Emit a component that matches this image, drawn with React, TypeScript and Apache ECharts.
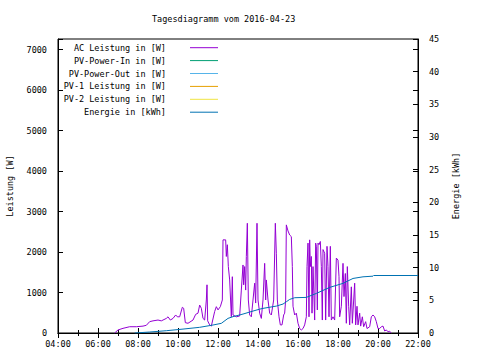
import React, { useEffect, useRef } from "react";
import * as echarts from "echarts";

const acTimes = [
  "06:50","07:00","07:15","07:35","07:55","08:15","08:25","08:35","08:45","09:00",
  "09:10","09:25","09:30","09:37","09:45","09:53","09:58","10:05","10:13","10:17",
  "10:22","10:30","10:45","10:53","11:00","11:05","11:10","11:15","11:20","11:25",
  "11:27","11:29","11:35","11:40","11:50","11:55","12:00","12:07","12:13","12:15",
  "12:23","12:25","12:28","12:31","12:35","12:40","12:43","12:45","12:55","13:05",
  "13:10","13:15","13:17","13:20","13:23","13:25","13:28","13:31","13:35","13:40",
  "13:45","13:50","13:53","13:57","14:00","14:05","14:10","14:15","14:20","14:23",
  "14:25","14:30","14:35","14:40","14:47","14:52","14:55","14:58","15:03","15:07",
  "15:12","15:17","15:20","15:23","15:25","15:30","15:35","15:40","15:43","15:45",
  "15:50","15:55","16:00","16:05","16:10","16:15","16:20","16:25","16:27","16:30",
  "16:33","16:35","16:37","16:40","16:42","16:45","16:50","16:53","16:55","16:58",
  "17:00","17:03","17:07","17:10","17:13","17:15","17:20","17:23","17:27","17:30",
  "17:33","17:37","17:40","17:45","17:50","17:55","18:00","18:03","18:05","18:10",
  "18:15","18:18","18:22","18:25","18:28","18:32","18:35","18:40","18:43","18:50",
  "18:53","18:57","19:00","19:05","19:08","19:13","19:17","19:23","19:27","19:35",
  "19:40","19:45","19:50","19:55","20:00","20:05","20:10","20:15","20:20","20:25",
  "20:30","20:35","20:40"
];
const acValues = [
  0,75,115,155,155,170,190,280,300,320,
  300,360,400,320,360,445,400,400,635,610,
  255,240,320,460,490,690,610,360,320,815,
  1190,300,200,170,530,650,570,650,815,2300,
  2300,1890,2180,1640,1310,400,1390,445,400,420,
  1060,1680,1190,1640,1060,1890,2710,815,445,400,
  815,1230,740,2710,815,490,360,815,1720,815,
  1310,815,490,445,815,2710,1970,815,400,200,
  200,445,490,815,2670,2520,2420,2380,1640,660,
  445,490,240,110,75,110,200,400,1640,2220,
  400,2300,1640,1890,490,1640,320,2220,2140,570,
  2220,2180,2260,1640,320,2060,1970,320,2140,1640,
  400,2140,320,400,320,1850,1800,1390,400,660,
  1720,900,1470,240,1640,660,200,1140,240,1230,
  200,660,200,490,170,400,155,280,110,155,
  400,445,400,280,110,110,155,170,50,75,
  30,40,0
];

const energyTimes = [
  "07:50","08:35","09:25","10:15","11:05","11:45","12:10","12:30","12:45","13:15",
  "13:45","14:05","14:15","14:55","15:15","15:25","15:35","15:50","16:25","16:55",
  "17:35","18:15","18:45","19:15","19:45","19:47","22:00"
];
const energyValues = [
  0,0.15,0.35,0.6,0.87,1.22,1.48,2.24,2.5,2.9,
  3.36,3.65,3.77,4.12,4.43,4.78,5.14,5.4,5.45,6.06,
  6.98,7.6,8.35,8.6,8.7,8.8,8.8
];

const titleText = "Tagesdiagramm vom 2016-04-23";
const legendNames = [
  "AC Leistung in [W]",
  "PV-Power-In in [W]",
  "PV-Power-Out in [W]",
  "PV-1 Leistung in [W]",
  "PV-2 Leistung in [W]",
  "Energie in [kWh]"
];
const legendColors = ["#9400d3", "#009e73", "#56b4e9", "#e69f00", "#f0e442", "#0072b2"];
const leftAxisName = "Leistung [W]";
const rightAxisName = "Energie [kWh]";

const FONT = "DejaVu Sans Mono";
const FS = 8.5;

const toHours = (t: string) => {
  const [h, m] = t.split(":").map(Number);
  return h + m / 60;
};
const pad = (n: number) => (n < 10 ? "0" + n : String(n));

export default function App() {
  const ref = useRef<HTMLDivElement>(null);
  useEffect(() => {
    const chart = echarts.init(ref.current!, null, { renderer: "svg" });
    const acData = acTimes.map((t, i) => [toHours(t), acValues[i]]);
    const enData = energyTimes.map((t, i) => [toHours(t), energyValues[i]]);

    const labelStyle = { color: "#000", fontFamily: FONT, fontSize: FS };
    const black = { color: "#000", width: 1 };
    const xBase = {
      type: "value",
      min: 4,
      max: 22,
      interval: 2,
      axisLine: { show: true, lineStyle: black },
      axisTick: { show: true, inside: true, length: 5, lineStyle: black },
      minorTick: { show: true, splitNumber: 2, length: 3, lineStyle: black },
      splitLine: { show: false },
      minorSplitLine: { show: false },
    };

    const legendGraphics: any[] = [];
    legendNames.forEach((name, i) => {
      const y = 47.7 + i * 12.9;
      legendGraphics.push({
        type: "text",
        x: 166,
        y,
        style: {
          text: name,
          align: "right",
          verticalAlign: "middle",
          fill: "#000",
          font: `${FS}px "${FONT}"`,
        },
      });
      legendGraphics.push({
        type: "line",
        shape: { x1: 190, y1: y, x2: 218, y2: y },
        style: { stroke: legendColors[i], lineWidth: 1 },
      });
    });

    chart.setOption({
      animation: false,
      backgroundColor: "#fff",
      textStyle: { fontFamily: FONT },
      title: {
        text: titleText,
        left: 152,
        top: 14,
        padding: 0,
        textStyle: { ...labelStyle, fontWeight: "normal" },
      },
      grid: {
        left: 58,
        right: 62,
        top: 39,
        bottom: 27,
        show: true,
        borderColor: "#000",
        borderWidth: 1,
        outerBoundsMode: "none",
        containLabel: false,
      },
      xAxis: [
        {
          ...xBase,
          position: "bottom",
          axisLabel: {
            ...labelStyle,
            margin: 6,
            formatter: (v: number) => pad(v) + ":00",
          },
        },
        { ...xBase, position: "top", axisLabel: { show: false } },
      ],
      yAxis: [
        {
          type: "value",
          position: "left",
          min: 0,
          max: 7260,
          interval: 1000,
          name: leftAxisName,
          nameLocation: "middle",
          nameRotate: 90,
          nameGap: 44,
          nameTextStyle: labelStyle,
          axisLine: { show: true, lineStyle: black },
          axisTick: { show: true, inside: true, length: 5, lineStyle: black },
          splitLine: { show: false },
          axisLabel: {
            ...labelStyle,
            margin: 11,
            formatter: (v: number) => (v % 1000 === 0 ? String(v) : ""),
          },
        },
        {
          type: "value",
          position: "right",
          min: 0,
          max: 45,
          interval: 5,
          name: rightAxisName,
          nameLocation: "middle",
          nameRotate: 90,
          nameGap: 33,
          nameTextStyle: labelStyle,
          axisLine: { show: true, lineStyle: black },
          axisTick: { show: true, inside: true, length: 5, lineStyle: black },
          splitLine: { show: false },
          axisLabel: { ...labelStyle, margin: 11 },
        },
        {
          type: "value",
          position: "right",
          min: 0,
          max: 7260,
          interval: 1000,
          axisLine: { show: false },
          axisTick: { show: true, inside: true, length: 5, lineStyle: black },
          splitLine: { show: false },
          axisLabel: { show: false },
        },
      ],
      series: [
        {
          name: legendNames[0],
          type: "line",
          xAxisIndex: 0,
          yAxisIndex: 0,
          data: acData,
          showSymbol: false,
          symbol: "none",
          lineStyle: { color: legendColors[0], width: 1 },
          itemStyle: { color: legendColors[0] },
        },
        {
          name: legendNames[5],
          type: "line",
          xAxisIndex: 0,
          yAxisIndex: 1,
          data: enData,
          showSymbol: false,
          symbol: "none",
          lineStyle: { color: legendColors[5], width: 1 },
          itemStyle: { color: legendColors[5] },
        },
      ],
      graphic: legendGraphics,
    });
    return () => chart.dispose();
  }, []);
  return <div ref={ref} style={{ position: "fixed", left: 0, top: 0, width: 480, height: 360 }} />;
}
